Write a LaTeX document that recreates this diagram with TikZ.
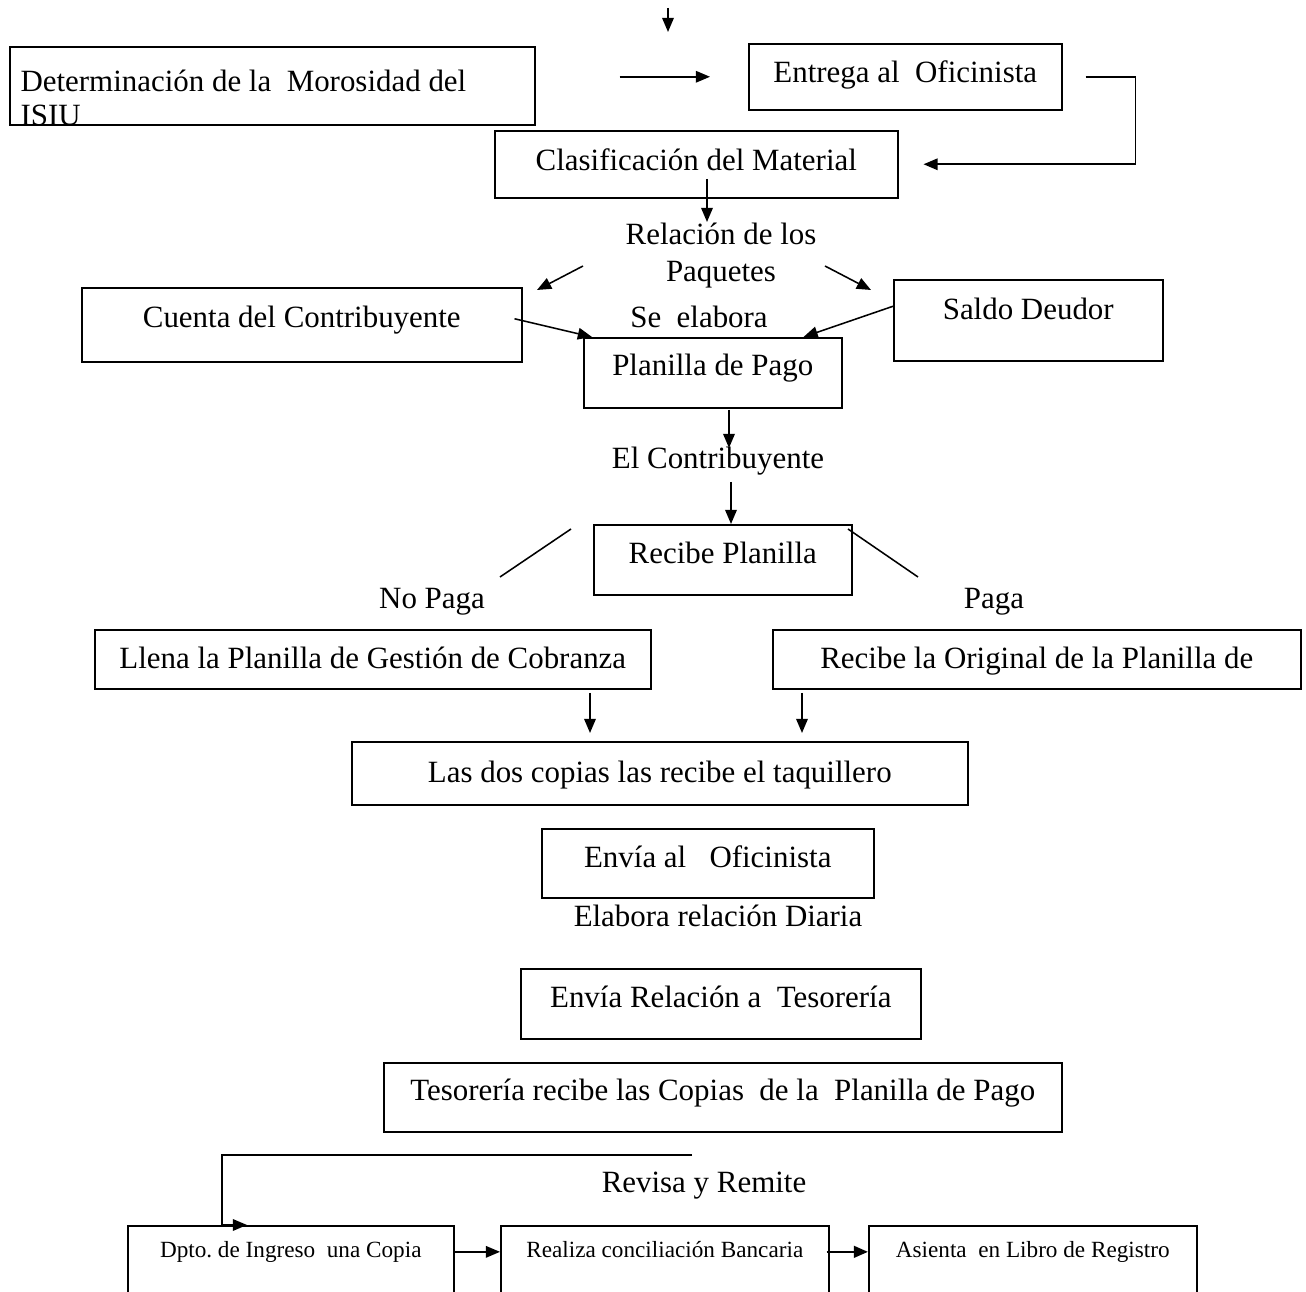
\documentclass[tikz,border=0pt]{standalone}
\usepackage{fontspec}
\setmainfont{Liberation Serif}
\usetikzlibrary{arrows.meta}
\newcommand{\pxu}{0.388pt}
\frenchspacing

\begin{document}
\begin{tikzpicture}[
    x=\pxu, y=-\pxu,
    >={Triangle[length=5.5pt,width=4.5pt]},
    every node/.style={font=\fontsize{12pt}{14.5pt}\selectfont},
    blk/.style n args={3}{draw,line width=0.6pt,anchor=north west,inner xsep=0pt,inner ysep=0pt,
      minimum width=#1*\pxu,text height=#2*\pxu,text depth=#3*\pxu},
    lbl/.style={inner sep=0pt,anchor=base},
    small/.style={font=\fontsize{9pt}{11pt}\selectfont},
    arr/.style={->,line width=0.6pt},
    ln/.style={line width=0.6pt}
  ]
    \useasboundingbox (0,0) rectangle (1306,1292);
    \clip (0,0) rectangle (1306,1292);

    % Upper row
    \node[blk={525}{44}{34}] (MOR) at (9,46) {};
    \begin{scope}
      \clip (MOR.south west) rectangle (MOR.north east);
      \node[inner sep=0pt,anchor=north west,align=left,font=\fontsize{12pt}{13.5pt}\selectfont]
        (MORtxt) at (20,69) {Determinación de la\ \ Morosidad del\\ISIU};
    \end{scope}
    \node[blk={313}{39}{27}] (ENT) at (748,43) {Entrega al\ \ Oficinista};
    \node[blk={403}{40}{27}] (CLA) at (494,130) {Clasificación del Material};

    \coordinate (in0) at (668,8);
    \coordinate (in1) at (668,32);
    \draw[arr] (in0) -- (in1);
    \draw[arr, shorten <=84*\pxu, shorten >=38*\pxu] (MOR.east |- ENT.west) -- (ENT.west);
    \draw[arr, shorten <=23*\pxu, shorten >=25*\pxu] (ENT.east) -- ++(73,0) |- (CLA.east);

    % Packages and payment form
    \node[inner sep=0pt,anchor=north,align=center] (REL) at (721,222) {Relación de los\\Paquetes};
    \node[blk={440}{40}{34}] (CUE) at (81,287) {Cuenta del Contribuyente};
    \node[blk={269}{40}{41}] (SAL) at (893,279) {Saldo Deudor};
    \node[lbl] (ELA) at (699,328) {Se\ \ elabora};
    \node[blk={258}{38}{32}] (PLA) at (583,337) {Planilla de Pago};

    \coordinate (c0) at (707,179);
    \draw[arr] (c0) -- (c0 |- REL.north);
    \coordinate (rl0) at (583,266);
    \coordinate (rl1) at (537,290);
    \coordinate (rr0) at (825,266);
    \coordinate (rr1) at (871,290);
    \draw[arr] (rl0) -- (rl1);
    \draw[arr] (rr0) -- (rr1);
    \draw[arr] ([shift={(-8,-6)}]CUE.east) -- ([shift={(9,0)}]PLA.north west);
    \draw[arr] ([shift={(0,-14)}]SAL.west) -- ([shift={(-39,0)}]PLA.north east);

    % The taxpayer
    \node[lbl] (ELC) at (718,469) {El Contribuyente};
    \node[blk={258}{39}{31}] (REC) at (593,524) {Recibe Planilla};
    \node[lbl] (NOP) at (432,609) {No Paga};
    \node[lbl] (PAG) at (994,609) {Paga};
    \node[blk={556}{39}{20}] (LLE) at (94,629) {Llena la Planilla de Gestión de Cobranza};
    \node[blk={528}{39}{20}] (ORI) at (772,629) {Recibe la Original de la Planilla de};

    \coordinate (p0) at (729,410);
    \draw[arr] (p0) -- ++(0,38);
    \coordinate (e0) at (731,482);
    \draw[arr] (e0) -- (e0 |- REC.north);
    \coordinate (nl0) at (571,529);
    \coordinate (nl1) at (500,577);
    \coordinate (pl0) at (848,529);
    \coordinate (pl1) at (918,577);
    \draw[ln] (nl0) -- (nl1);
    \draw[ln] (pl0) -- (pl1);

    % Cashier and treasury
    \node[blk={616}{41}{22}] (TAQ) at (351,741) {Las dos copias las recibe el taquillero};
    \node[blk={332}{39}{30}] (ENV) at (541,828) {Envía al\ \ \ Oficinista};
    \node[lbl] (DIA) at (718,927) {Elabora relación Diaria};
    \node[blk={400}{39}{31}] (ENR) at (520,968) {Envía Relación a\ \ Tesorería};
    \node[blk={678}{38}{31}] (TES) at (383,1062) {Tesorería recibe las Copias\ \ de la\ \ Planilla de Pago};

    \coordinate (h0) at (590,693);
    \coordinate (o0) at (802,693);
    \draw[arr, shorten >=8*\pxu] (h0) -- (h0 |- TAQ.north);
    \draw[arr, shorten >=8*\pxu] (o0) -- (o0 |- TAQ.north);

    % Bottom row
    \node[lbl] (REV) at (704,1193) {Revisa y Remite};
    \node[blk={326}{32}{73},small] (DPT) at (127,1225) {Dpto. de Ingreso\ \ una Copia};
    \node[blk={328}{32}{73},small] (REA) at (500,1225) {Realiza conciliación Bancaria};
    \node[blk={328}{32}{73},small] (ASI) at (868,1225) {Asienta\ \ en Libro de Registro};

    \coordinate (rv0) at (692,1155);
    \draw[arr] (rv0) -| ([shift={(95,0)}]DPT.north west) -- ([shift={(120,0)}]DPT.north west);
    \draw[arr] (DPT.mid east) -- (REA.mid west);
    \draw[arr, line width=1pt] ([xshift=-3*\pxu]REA.mid east) -- (ASI.mid west);
  \end{tikzpicture}
\end{document}
